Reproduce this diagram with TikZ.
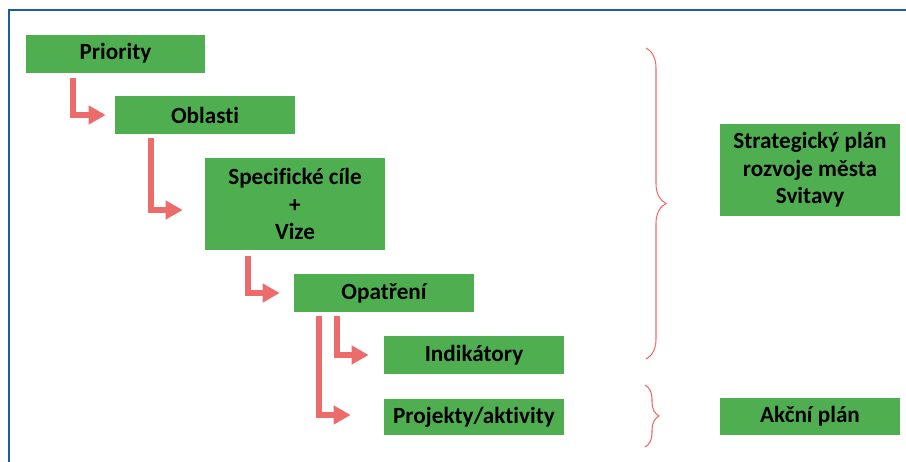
\documentclass[tikz,border=0pt]{standalone}
\usepackage{fontspec}
\setmainfont{Carlito}[Ligatures=NoCommon] % métrique de Calibri, sans ligatures
\usepackage{tikz}
\usetikzlibrary{arrows.meta,          % pointes de flèches
           decorations.pathreplacing, % pour les accolades
           positioning}
\definecolor{vert}{RGB}{79,175,80}
\definecolor{rouge}{RGB}{236,108,108}
\definecolor{bleu}{RGB}{30,90,170}
\tikzset{
  boite/.style={fill=vert, minimum width=3.6cm, minimum height=0.76cm, inner sep=0pt,
    align=center, font=\fontsize{13.2}{15.6}\selectfont\bfseries},
  fleche/.style={draw=rouge, line width=0.12cm,
    -{Triangle[length=0.34cm,width=0.36cm]}},
  accolade/.style={draw=rouge, line width=0.6pt, decorate}
}

\begin{document}
\begin{tikzpicture}[x=0.02cm,y=-0.02cm]
    \useasboundingbox (0,0) rectangle (906,461);
    \draw[bleu, line width=1.2pt] (9,470)--(9,10)--(915,10);
    \node[boite](prio) at (115.5,53.5){Priority};
    \node[boite](obl) at (205,115){Oblasti};
    \node[boite, minimum height=1.84cm](spec) at (295,204){Specifické cíle\\+\\Vize};
    \node[boite](opat) at (384,293){Opatření};
    \node[boite](ind) at (474,355){Indikátory};
    \node[boite, minimum height=0.72cm](proj) at (474,417){Projekty/aktivity};
    \node[boite, minimum height=1.84cm](strat) at (810,170){Strategický plán\\rozvoje města\\Svitavy};
    \node[boite, minimum height=0.74cm](akce) at (810,416.5){Akční plán};
    \draw[fleche, shorten <=0.1cm, shorten >=0.18cm] ([xshift=0.96cm]prio.south west) |- (obl.west);
    \draw[fleche, shorten <=0.08cm, shorten >=0.44cm] ([xshift=0.72cm]obl.south west) |- ([yshift=-0.12cm]spec.west);
    \draw[fleche, shorten <=0.12cm, shorten >=0.28cm] ([xshift=0.86cm]spec.south west) |- (opat.west);
    \draw[fleche, shorten <=0.08cm, shorten >=0.3cm] ([xshift=0.86cm]opat.south west) |- (ind.west);
    \draw[fleche, shorten <=0.08cm, shorten >=0.66cm] ([xshift=0.5cm]opat.south west) |- ([yshift=0.04cm]proj.west);
    \coordinate (h1) at (646,48);
    \coordinate (b1) at (646,359);
    \coordinate (h2) at (645,385);
    \coordinate (b2) at (645,447);
    \draw[accolade, decoration={brace, amplitude=0.4cm}] (h1)--(b1);
    \draw[accolade, decoration={brace, amplitude=0.28cm}] (h2)--(b2);
\end{tikzpicture}
\end{document}
